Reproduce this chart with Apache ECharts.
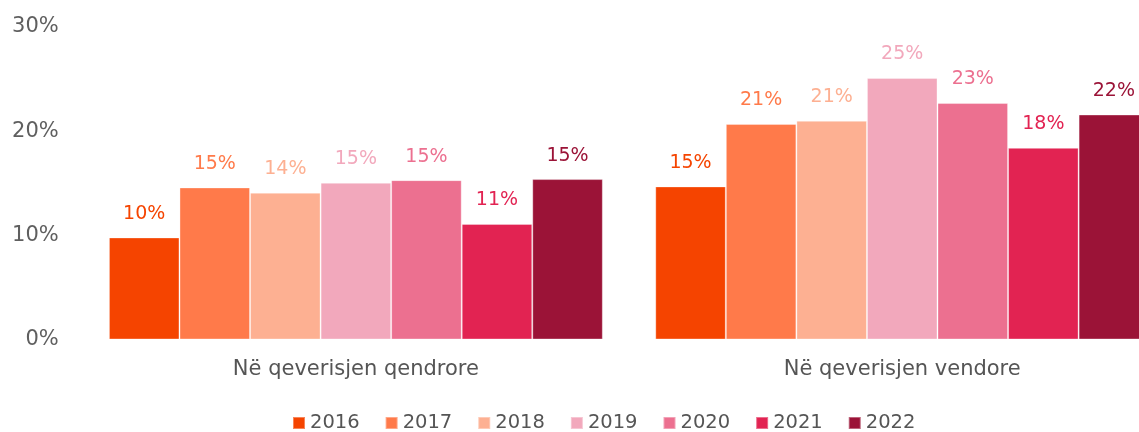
<!DOCTYPE html>
<html>
<head>
<meta charset="utf-8">
<script src="https://cdn.jsdelivr.net/npm/echarts@6/dist/echarts.min.js"></script>
<style>
html,body{margin:0;padding:0;background:#fff;}
#chart{width:1139px;height:432px;}
</style>
</head>
<body>
<div id="chart"></div>
<script>
const categories = ['Në qeverisjen qendrore', 'Në qeverisjen vendore'];
const years = ['2016', '2017', '2018', '2019', '2020', '2021', '2022'];
const colors = ['#F54400', '#FF7A4A', '#FDB092', '#F2A8BC', '#EC7090', '#E22352', '#9B1337'];
const v2016 = [9.8, 14.7];
const v2017 = [14.6, 20.7];
const v2018 = [14.1, 21.0];
const v2019 = [15.05, 25.1];
const v2020 = [15.3, 22.7];
const v2021 = [11.1, 18.4];
const v2022 = [15.4, 21.6];
const yTicks = [0, 10, 20, 30];

const values = [v2016, v2017, v2018, v2019, v2020, v2021, v2022];
const FONT = '"DejaVu Sans", Inter, Arial, sans-serif';

const series = years.map((y, i) => ({
  name: y,
  type: 'bar',
  data: values[i],
  barGap: 0,
  barCategoryGap: '9.6%',
  itemStyle: { color: colors[i], borderColor: 'rgba(255,255,255,0.35)', borderWidth: 1 },
  label: {
    show: true,
    position: 'top',
    distance: 14,
    color: colors[i],
    fontFamily: FONT,
    fontSize: 19,
    formatter: p => Math.round(p.value) + '%'
  },
  emphasis: { disabled: true }
}));

const chart = echarts.init(document.getElementById('chart'), null, { renderer: 'canvas' });
chart.setOption({
  animation: false,
  textStyle: { fontFamily: FONT },
  grid: { left: 82.7, right: -36.4, top: 27, bottom: 92.5, containLabel: false, outerBoundsMode: 'none' },
  legend: {
    data: years,
    top: 408,
    left: 287,
    icon: 'rect',
    itemWidth: 12,
    itemHeight: 12,
    itemGap: 25,
    textStyle: { color: '#555', fontSize: 19.5, fontFamily: FONT, padding: [0, 0, 0, 0] },
    selectedMode: false
  },
  xAxis: {
    type: 'category',
    data: categories,
    axisLine: { show: false },
    axisTick: { show: false },
    axisLabel: { color: '#555', fontSize: 21, margin: 20, fontFamily: FONT }
  },
  yAxis: {
    type: 'value',
    min: yTicks[0],
    max: yTicks[yTicks.length - 1],
    interval: 10,
    splitLine: { show: false },
    axisLine: { show: false },
    axisTick: { show: false },
    axisLabel: { color: '#5f5f5f', fontSize: 21, margin: 24, fontFamily: FONT, formatter: '{value}%' }
  },
  series: series
});
</script>
</body>
</html>
